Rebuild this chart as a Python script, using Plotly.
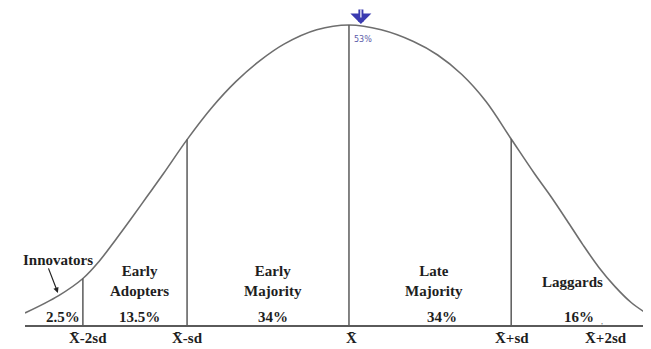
#!/usr/bin/env python3
# adoption_curve.py - diffusion of innovations bell curve

import plotly.graph_objects as go

# --- data (x in sd units from the mean, y as share of peak height) ---
curve_sd = [-2.009, -1.80, -1.65, -1.55, -1.45, -1.35, -1.25, -1.15, -1.004,
            -0.85, -0.70, -0.55, -0.40, -0.20, 0.0, 0.20, 0.40, 0.55, 0.70,
            0.85, 1.006, 1.15, 1.25, 1.35, 1.45, 1.55, 1.65, 1.75, 1.861]
curve_height = [0.040, 0.098, 0.155, 0.212, 0.282, 0.355, 0.430, 0.505, 0.618,
                0.725, 0.812, 0.882, 0.937, 0.984, 1.000, 0.984, 0.945, 0.900, 0.835,
                0.745, 0.620, 0.505, 0.430, 0.350, 0.268, 0.192, 0.128, 0.075, 0.033]

boundary_sd = [-1.650, -1.004, 0.0, 1.006]
boundary_height = [0.155, 0.618, 1.000, 0.620]

segments = ["Innovators", "Early<br>Adopters", "Early<br>Majority", "Late<br>Majority", "Laggards"]
segment_pct = ["2.5%", "13.5%", "34%", "34%", "16%"]

tick_sd = [-1.62, -1.0, 0.015, 1.012, 1.594]
tick_labels = ["X\u0304-2sd", "X\u0304-sd", "X\u0304", "X\u0304+sd", "X\u0304+2sd"]

peak_label = "53%"


def main():
    serif = "Liberation Serif"
    ink = "#1e1e1e"

    fig = go.Figure()

    # bell curve
    fig.add_trace(go.Scatter(
        x=curve_sd, y=curve_height, mode="lines",
        line=dict(color="#6e6e6e", width=1.6, shape="spline", smoothing=1.0),
        hoverinfo="skip", showlegend=False,
    ))

    # boundary verticals
    for b, h in zip(boundary_sd, boundary_height):
        fig.add_trace(go.Scatter(
            x=[b, b], y=[0, h], mode="lines",
            line=dict(color="#5a5a5a", width=1.5),
            hoverinfo="skip", showlegend=False,
        ))

    # segment names and shares
    name_pos = [(-1.805, 0.217), (-1.297, 0.147), (-0.474, 0.147), (0.529, 0.147), (1.384, 0.143)]
    pct_pos = [-1.774, -1.297, -0.474, 0.579, 1.427]
    for name, (nx, ny) in zip(segments, name_pos):
        fig.add_annotation(x=nx, y=ny, text=f"<b>{name}</b>", showarrow=False,
                           font=dict(family=serif, size=15, color=ink))
    for pct, px in zip(segment_pct, pct_pos):
        fig.add_annotation(x=px, y=0.027, text=f"<b>{pct}</b>", showarrow=False,
                           font=dict(family=serif, size=15, color=ink))
    fig.add_annotation(x=1.57, y=0.012, text=",", showarrow=False,
                       font=dict(family=serif, size=8, color="#555"))

    # axis labels under the baseline (paper-referenced so they are not hidden off-range)
    for t, tx in zip(tick_labels, tick_sd):
        fig.add_annotation(x=tx, yref="paper", y=-0.041, yanchor="middle", xanchor="center",
                           text=f"<b>{t}</b>", showarrow=False,
                           font=dict(family=serif, size=15, color=ink))

    # pointer from "Innovators" to the curve
    fig.add_annotation(x=-1.805, y=0.107, ax=-10, ay=-26, text="", showarrow=True,
                       arrowhead=2, arrowsize=0.9, arrowwidth=1.2, arrowcolor="#222")

    # peak marker
    fig.add_annotation(x=0.074, y=1.003, ax=0, ay=-20, text="", showarrow=True,
                       arrowhead=1, arrowsize=0.7, arrowwidth=5, arrowcolor="#3b3bb0")
    fig.add_annotation(x=0.074, y=1.025, ax=0, ay=-11, text="", showarrow=True,
                       arrowhead=0, arrowwidth=1.2, arrowcolor="white")
    fig.add_annotation(x=0.085, y=0.953, text=peak_label, showarrow=False,
                       font=dict(family="DejaVu Sans", size=8, color="#5a5aa8"))

    # page body keeps an 8px margin, so the figure is laid out 8px smaller
    fig.update_layout(
        width=643, height=341,
        margin=dict(l=17, r=0, t=0, b=24),
        paper_bgcolor="white", plot_bgcolor="white",
        xaxis=dict(
            range=[-2.009, 1.873], showgrid=False, zeroline=False,
            showline=True, linecolor="#5a5a5a", linewidth=2,
            showticklabels=False, ticks="",
        ),
        yaxis=dict(range=[0, 1.0567], visible=False),
    )

    fig.write_html("out.html")


if __name__ == "__main__":
    main()
